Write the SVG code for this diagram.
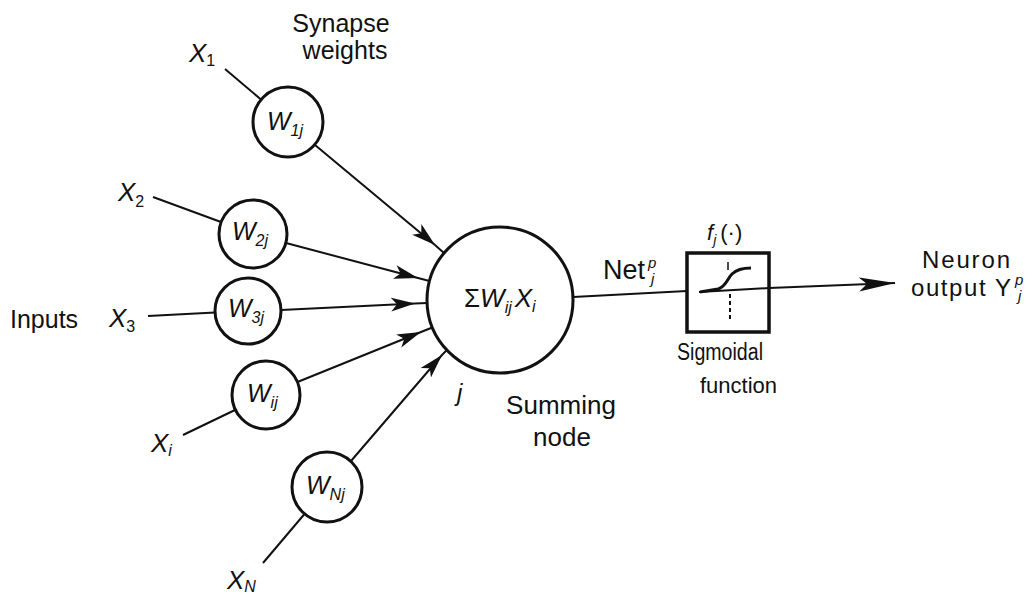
<svg xmlns="http://www.w3.org/2000/svg" width="1035" height="599" viewBox="0 0 1035 599">
  <style>
    .t { font-family: "Liberation Sans", Arial, sans-serif; fill: #111; }
    .it { font-style: italic; }
    .node { fill: #fff; stroke: #111; stroke-width: 3; }
    .ln { fill: none; stroke: #111; stroke-width: 2; }
  </style>
  <defs>
    <marker id="arr" viewBox="0 0 24 16" refX="24" refY="8" markerWidth="24" markerHeight="16" markerUnits="userSpaceOnUse" orient="auto">
      <path d="M24,8 L0,1 L6,8 L0,15 Z" fill="#111"/>
    </marker>
    <marker id="arrBig" viewBox="0 0 36 16" refX="36" refY="8" markerWidth="36" markerHeight="16" markerUnits="userSpaceOnUse" orient="auto">
      <path d="M36,8 L0,1 L8,8 L0,15 Z" fill="#111"/>
    </marker>
  </defs>
  <rect width="1035" height="599" fill="#fff"/>

  <g id="connectors">
    <line class="ln" x1="225" y1="69" x2="261" y2="99.5"/>
    <line class="ln" x1="153" y1="197" x2="221" y2="222"/>
    <line class="ln" x1="148" y1="316" x2="215" y2="312.6"/>
    <line class="ln" x1="183" y1="435" x2="235" y2="410"/>
    <line class="ln" x1="263" y1="563" x2="304.5" y2="514"/>
    <path class="ln" d="M315,145 L435,245 L444,253" marker-mid="url(#arr)"/>
    <path class="ln" d="M286,243 L418,278 L429.5,281" marker-mid="url(#arr)"/>
    <path class="ln" d="M281,310 L415,303.5 L427,303" marker-mid="url(#arr)"/>
    <path class="ln" d="M297.5,382 L421,332 L432.3,327.5" marker-mid="url(#arr)"/>
    <path class="ln" d="M351,461 L442,355 L450.4,346.4" marker-mid="url(#arr)"/>
    <line class="ln" x1="573" y1="297" x2="687" y2="291"/>
    <line class="ln" x1="769" y1="288" x2="895" y2="283" marker-end="url(#arrBig)"/>
  </g>

  <g id="input-labels">
    <text class="t" x="10" y="328" font-size="25">Inputs</text>
    <text class="t it" x="189" y="62" font-size="26">X<tspan font-size="16" font-style="normal" dy="4">1</tspan></text>
    <text class="t it" x="118" y="201" font-size="26">X<tspan font-size="16" font-style="normal" dy="6">2</tspan></text>
    <text class="t it" x="109" y="327" font-size="26">X<tspan font-size="16" font-style="normal" dy="5">3</tspan></text>
    <text class="t it" x="151" y="452" font-size="26">X<tspan font-size="16" dy="4">i</tspan></text>
    <text class="t it" x="227" y="589" font-size="26">X<tspan font-size="16" dy="3">N</tspan></text>
  </g>

  <g id="synapse-label">
    <text class="t" x="341" y="32" font-size="25" text-anchor="middle">Synapse</text>
    <text class="t" x="345" y="59" font-size="25" text-anchor="middle">weights</text>
  </g>

  <g id="w1j">
    <circle class="node" cx="288" cy="122" r="35"/>
    <text class="t it" x="267" y="130" font-size="25">W<tspan font-size="16" dy="6">1j</tspan></text>
  </g>
  <g id="w2j">
    <circle class="node" cx="253" cy="234" r="34"/>
    <text class="t it" x="232" y="240" font-size="25">W<tspan font-size="16" dy="6">2j</tspan></text>
  </g>
  <g id="w3j">
    <circle class="node" cx="248" cy="311" r="33"/>
    <text class="t it" x="228" y="317" font-size="25">W<tspan font-size="16" dy="6">3j</tspan></text>
  </g>
  <g id="wij">
    <circle class="node" cx="266" cy="395" r="34"/>
    <text class="t it" x="247" y="402" font-size="25">W<tspan font-size="16" dy="6">ij</tspan></text>
  </g>
  <g id="wnj">
    <circle class="node" cx="327" cy="487" r="35"/>
    <text class="t it" x="306" y="494" font-size="25">W<tspan font-size="16" dy="6">Nj</tspan></text>
  </g>

  <g id="summing-node">
    <circle class="node" cx="500" cy="300" r="73"/>
    <text class="t" x="464" y="307" font-size="26">Σ<tspan font-style="italic">W</tspan><tspan font-style="italic" font-size="16" dy="6">ij</tspan><tspan font-style="italic" dy="-6" dx="3">X</tspan><tspan font-style="italic" font-size="16" dy="5">i</tspan></text>
    <text class="t it" x="457" y="401" font-size="24">j</text>
    <text class="t" x="561" y="414" font-size="26" text-anchor="middle">Summing</text>
    <text class="t" x="562" y="446" font-size="26" text-anchor="middle">node</text>
  </g>

  <g id="net-label">
    <text class="t" x="603" y="279" font-size="27">Net</text>
    <text class="t it" x="648" y="268" font-size="15">p</text>
    <text class="t it" x="651" y="284" font-size="15">j</text>
  </g>

  <g id="sigmoid">
    <rect x="687" y="253" width="82" height="79" fill="#fff" stroke="#111" stroke-width="3.5"/>
    <line class="ln" x1="699" y1="292" x2="769" y2="288"/>
    <path d="M700,292 L718,289 C726,287 727,279 732,274 C737,269 743,268 751,268" fill="none" stroke="#111" stroke-width="3"/>
    <line x1="728" y1="262" x2="728" y2="270" stroke="#111" stroke-width="1.5"/>
    <line x1="730" y1="294" x2="730" y2="319" stroke="#111" stroke-width="2" stroke-dasharray="4,3"/>
    <text class="t it" x="707" y="240" font-size="22">f<tspan font-size="14" dy="5">j</tspan><tspan font-style="normal" font-size="22" dy="-5" dx="4">(·)</tspan></text>
    <text class="t" x="677" y="360" font-size="23" textLength="86" lengthAdjust="spacingAndGlyphs">Sigmoidal</text>
    <text class="t" x="700" y="393" font-size="22">function</text>
  </g>

  <g id="output-label">
    <text class="t" x="922" y="268" font-size="24" textLength="88" lengthAdjust="spacing">Neuron</text>
    <text class="t" x="911" y="296" font-size="24" textLength="100" lengthAdjust="spacing">output Y</text>
    <text class="t it" x="1015" y="285" font-size="15">p</text>
    <text class="t it" x="1018" y="301" font-size="15">j</text>
  </g>
</svg>
